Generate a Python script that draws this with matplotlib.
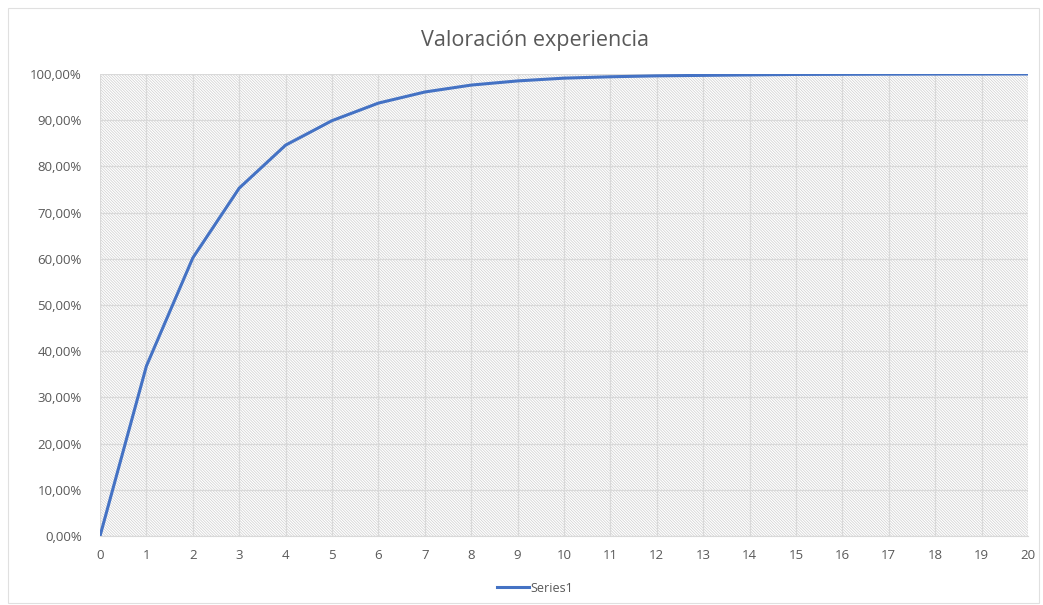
import matplotlib
matplotlib.use("Agg")
import matplotlib.pyplot as plt
from matplotlib.patches import Rectangle
from matplotlib.ticker import FuncFormatter, MultipleLocator

plt.rcParams["font.family"] = ["Open Sans", "DejaVu Sans"]
plt.rcParams["hatch.linewidth"] = 0.5

# data
years = list(range(21))
valoracion = [0.0, 0.368, 0.602, 0.753, 0.846, 0.899, 0.937, 0.961, 0.976,
              0.985, 0.991, 0.994, 0.996, 0.997, 0.998, 0.999, 0.9993, 0.9996,
              0.9998, 0.9999, 1.0]
series_name = "Series1"
title = "Valoración experiencia"

TEXT = "#595959"
GRID = "#d9d9d9"
BLUE = "#4472C4"

fig = plt.figure(figsize=(10.43, 6.05), dpi=100)
fig.patches.append(Rectangle((0.008, 0.004), 0.988, 0.982, transform=fig.transFigure,
                             fill=False, edgecolor="#e0e0e0", linewidth=0.8))
ax = fig.add_axes([0.0959, 0.114, 0.8897, 0.7637])

# diagonal hatch background of the plot area
ax.add_patch(Rectangle((0, 0), 1, 1, transform=ax.transAxes, facecolor="white",
                       edgecolor="#cfcfcf", hatch="\\" * 12, linewidth=0, zorder=0))

ax.plot(years, valoracion, color=BLUE, linewidth=2.2, label=series_name, zorder=3)

ax.set_xlim(0, 20)
ax.set_ylim(0, 1.0)
ax.xaxis.set_major_locator(MultipleLocator(1))
ax.yaxis.set_major_locator(MultipleLocator(0.1))
ax.yaxis.set_major_formatter(FuncFormatter(lambda v, _: f"{v * 100:.2f}%".replace(".", ",")))
ax.grid(True, color=GRID, linewidth=0.9, zorder=1)
ax.set_axisbelow(True)
for side in ["top", "right", "left"]:
    ax.spines[side].set_visible(False)
ax.spines["bottom"].set_color(GRID)
ax.tick_params(length=0, labelsize=9.5, labelcolor=TEXT)
ax.tick_params(axis="x", pad=9)
ax.tick_params(axis="y", pad=13)

fig.text(0.513, 0.933, title, ha="center", va="center", fontsize=15.5, color=TEXT)
fig.legend(loc="center", bbox_to_anchor=(0.513, 0.028), frameon=False, fontsize=9,
           labelcolor=TEXT, handlelength=2.6, handletextpad=0.1)

fig.savefig("out.png", dpi=100)
